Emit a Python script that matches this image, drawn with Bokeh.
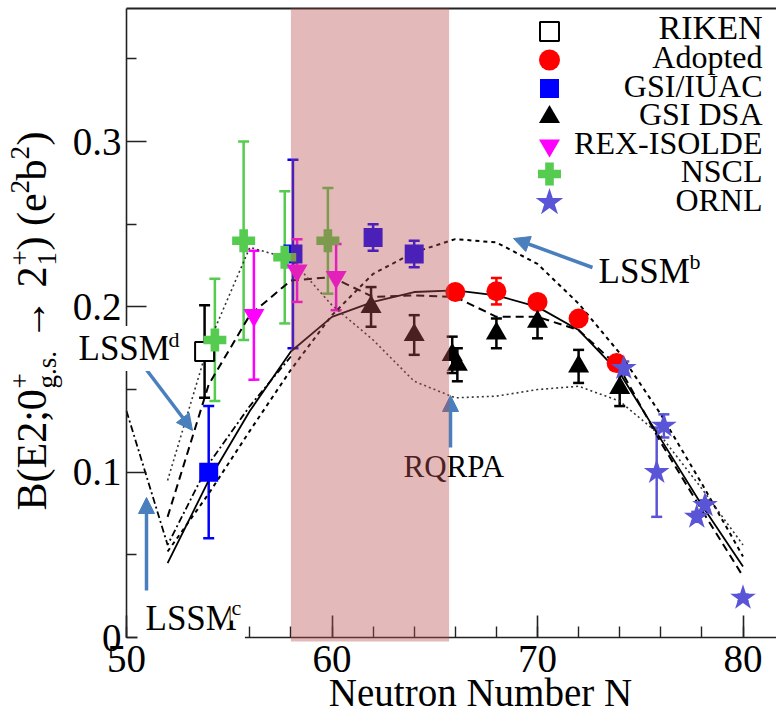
import math
from bokeh.plotting import figure
from bokeh.models import (Range1d, FixedTicker, CustomJSTickFormatter, ColumnDataSource, Whisker,
                          TeeHead, BoxAnnotation, Label, Arrow, NormalHead, LinearAxis)
from bokeh.core.properties import value
from bokeh.embed import file_html
from bokeh.resources import INLINE

# ---------------- data ----------------
THEORY_N = [52, 54, 56, 58, 60, 62, 64, 66, 68, 70, 72, 74, 76, 78, 80]
SOLID_B = [0.045, 0.095, 0.137, 0.173, 0.194, 0.203, 0.209, 0.210, 0.207, 0.200, 0.186, 0.160, 0.120, 0.080, 0.043]
LSSM_D_B = [0.073, 0.153, 0.195, 0.216, 0.218, 0.206, 0.207, 0.206, 0.194, 0.194, 0.186, 0.163, 0.118, 0.077, 0.037]
LSSM_B_B = [0.052, 0.087, 0.125, 0.162, 0.195, 0.220, 0.233, 0.241, 0.239, 0.226, 0.202, 0.172, 0.135, 0.093, 0.049]
RQRPA_B = [0.095, 0.178, 0.236, 0.229, 0.201, 0.180, 0.155, 0.145, 0.146, 0.150, 0.152, 0.143, 0.122, 0.090, 0.056]
LSSM_C_N = [50, 52, 54, 56, 58]
LSSM_C_B = [0.137, 0.056, 0.105, 0.140, 0.170]

RIKEN_N = [53.8]
RIKEN_B = [0.173]
RIKEN_E = [0.028]

ADOPTED_N = [66, 68, 70, 72, 73.85]
ADOPTED_B = [0.209, 0.2095, 0.203, 0.193, 0.166]
ADOPTED_E = [0.004, 0.008, 0.003, 0.003, 0.003]

GSI_IUAC_N = [54, 58.1, 62, 64]
GSI_IUAC_B = [0.100, 0.232, 0.242, 0.232]
GSI_IUAC_E = [0.040, 0.057, 0.008, 0.008]

GSI_DSA_N = [61.9, 64, 65.85, 66.1, 68, 70, 72, 74]
GSI_DSA_B = [0.200, 0.183, 0.171, 0.165, 0.184, 0.191, 0.164, 0.151]
GSI_DSA_E = [0.012, 0.012, 0.011, 0.010, 0.009, 0.010, 0.010, 0.011]

REX_N = [56.2, 58.3, 60.2]
REX_B = [0.195, 0.222, 0.218]
REX_E = [0.039, 0.019, 0.020]

NSCL_N = [54.3, 55.7, 57.7, 59.8]
NSCL_B = [0.180, 0.240, 0.230, 0.240]
NSCL_E = [0.037, 0.060, 0.040, 0.032]

ORNL_N = [74.2, 75.8, 76.15, 77.75, 78.15, 80.0]
ORNL_B = [0.163, 0.100, 0.128, 0.073, 0.080, 0.024]
ORNL_E = [0.004, 0.027, 0.007, 0.003, 0.003, 0.002]

LEGEND_LABELS = ["RIKEN", "Adopted", "GSI/IUAC", "GSI DSA", "REX-ISOLDE", "NSCL", "ORNL"]
X_TICKS = [50, 60, 70, 80]
X_MINOR = list(range(50, 82, 2))
Y_TICKS = [0, 0.1, 0.2, 0.3]
Y_MINOR = [0.05, 0.15, 0.25, 0.35]
SHADE_N = [58, 65.7]

# ---------------- layout ----------------
W, H = 776, 717
FL, FT, FB = 126, 8, 637          # pixel positions of the N=50 axis, top border, B=0 axis
PX_N = 20.55
PX_B = 1653.0
X0 = 50
SERIF = "Liberation Serif"
MID = 0.34                        # distance baseline -> middle of em box, in em


def nx(px):
    return X0 + (px - FL) / PX_N


def by(py):
    return (FB - py) / PX_B


XEND = nx(W)
YTOP = by(FT)

RED, BLUE, MAG, GREEN, STAR = "#ff0000", "#0000ff", "#ff00ff", "#55cc4f", "#5a55d6"
ARROW_C = "#4a7fbd"
AX_C = "#222222"

# frame covers the whole canvas; axes are pinned with fixed_location
p = figure(width=W, height=H, x_range=Range1d(nx(0), XEND), y_range=Range1d(by(H), by(0)),
           output_backend="svg", toolbar_location=None, min_border=0)
p.grid.visible = False
p.outline_line_color = None
p.background_fill_color = "white"
p.border_fill_color = "white"

xa, ya = p.xaxis[0], p.yaxis[0]
xa.fixed_location = 0
ya.fixed_location = X0
xa.bounds = (X0, XEND)
ya.bounds = (0, YTOP)
for ax in (xa, ya):
    ax.axis_line_color = AX_C
    ax.axis_line_width = 1.6
    ax.major_tick_line_color = AX_C
    ax.minor_tick_line_color = AX_C
    ax.major_tick_line_width = 1.6
    ax.minor_tick_line_width = 1.4
    ax.major_tick_out = 0
    ax.minor_tick_out = 0
    ax.major_label_text_font = SERIF
    ax.major_label_text_font_size = "39px"
    ax.major_label_text_color = "black"

xa.ticker = FixedTicker(ticks=X_TICKS, minor_ticks=X_MINOR)
ya.ticker = FixedTicker(ticks=Y_TICKS, minor_ticks=Y_MINOR)
xa.major_tick_in = 22
xa.minor_tick_in = 11
ya.major_tick_in = 20
ya.minor_tick_in = 10
xa.major_label_standoff = 8
ya.major_label_standoff = 5
ya.formatter = CustomJSTickFormatter(code="return tick == 0 ? '0' : tick.toFixed(1);")

top = LinearAxis(fixed_location=YTOP, bounds=(X0, XEND), ticker=FixedTicker(ticks=[]),
                 axis_line_color=AX_C, axis_line_width=2,
                 major_tick_line_color=None, minor_tick_line_color=None)
p.add_layout(top, "above")

# ---------------- theory curves ----------------
p.line(THEORY_N, SOLID_B, line_color="black", line_width=1.8)
p.line(THEORY_N, LSSM_D_B, line_color="black", line_width=2, line_dash="8 5")
p.line(THEORY_N, LSSM_B_B, line_color="black", line_width=2, line_dash="4 4")
p.line(THEORY_N, RQRPA_B, line_color="#333333", line_width=1.6, line_dash="2 3")
p.line(LSSM_C_N, LSSM_C_B, line_color="black", line_width=1.8, line_dash="7 3 2 3")


# ---------------- experimental points ----------------
def series(N, B, E, marker, size, fill, line, lw=0):
    src = ColumnDataSource(dict(x=N, y=B,
                                upper=[b + e for b, e in zip(B, E)],
                                lower=[b - e for b, e in zip(B, E)]))
    p.add_layout(Whisker(source=src, base="x", upper="upper", lower="lower",
                         line_color=line, line_width=2.5,
                         upper_head=TeeHead(size=11, line_color=line, line_width=2.5),
                         lower_head=TeeHead(size=11, line_color=line, line_width=2.5)))
    p.scatter("x", "y", source=src, marker=marker, size=size, fill_color=fill,
              line_color=line, line_width=lw)


series(GSI_IUAC_N, GSI_IUAC_B, GSI_IUAC_E, "square", 19, BLUE, BLUE)
series(RIKEN_N, RIKEN_B, RIKEN_E, "square", 19, "white", "black", 2)
series(NSCL_N, NSCL_B, NSCL_E, "plus", 23, GREEN, GREEN)
series(REX_N, REX_B, REX_E, "inverted_triangle", 21, MAG, MAG)
series(ADOPTED_N, ADOPTED_B, ADOPTED_E, "circle", 20, RED, RED)
series(GSI_DSA_N, GSI_DSA_B, GSI_DSA_E, "triangle", 21, "black", "black")
series(ORNL_N, ORNL_B, ORNL_E, "star", 27, STAR, STAR)

# ---------------- legend (right-aligned labels) ----------------
LEG_MARKER_X = 549
LEG_TEXT_X = 762
LEG_TOP = 31
LEG_STEP = 28.5
LEG_FS = [34, 32, 32, 32, 32, 32, 32]
nleg = len(LEGEND_LABELS)
leg = ColumnDataSource(dict(
    x=[nx(LEG_MARKER_X)] * nleg,
    tx=[nx(LEG_TEXT_X)] * nleg,
    y=[by(LEG_TOP + i * LEG_STEP) for i in range(nleg)],
    ty=[by(LEG_TOP + i * LEG_STEP + 8 - MID * LEG_FS[i]) for i in range(nleg)],
    text=LEGEND_LABELS,
    marker=["square", "circle", "square", "triangle", "inverted_triangle", "plus", "star"],
    fill=["white", RED, BLUE, "black", MAG, GREEN, STAR],
    line=["black", RED, BLUE, "black", MAG, GREEN, STAR],
    lw=[2, 0, 0, 0, 0, 0, 0],
    size=[19, 21, 19, 21, 21, 23, 29],
    fs=[f"{s}px" for s in LEG_FS],
))
p.scatter("x", "y", source=leg, marker="marker", size="size", fill_color="fill",
          line_color="line", line_width="lw")
p.text("tx", "ty", text="text", source=leg, text_align="right", text_baseline="middle",
       text_font=value(SERIF), text_font_size="fs", text_color="black")

# ---------------- shaded band (overlay) ----------------
p.add_layout(BoxAnnotation(left=SHADE_N[0], right=SHADE_N[1], bottom=by(641), top=YTOP,
                           fill_color=(185, 80, 80), fill_alpha=0.4, line_color=None,
                           level="overlay"))


# ---------------- annotations ----------------
def lab(text, px, py, size, bg=None, pad=0, rotated=False, align="left"):
    """px, py: pixel position of the text's baseline start (or centre)."""
    kw = {}
    if bg:
        kw["background_fill_color"] = bg
        kw["padding"] = pad
    if rotated:
        ax_, ay_, ang = px - MID * size, py, math.pi / 2
    else:
        ax_, ay_, ang = px, py - MID * size, 0.0
    p.add_layout(Label(x=nx(ax_), y=by(ay_), text=text, text_font=SERIF,
                       text_font_size=f"{size}px", text_color="black", angle=ang,
                       text_align=align, text_baseline="middle", **kw))


def arrow(x0, y0, x1, y1):
    p.add_layout(Arrow(end=NormalHead(size=16, fill_color=ARROW_C, line_color=ARROW_C),
                       x_start=nx(x0), y_start=by(y0), x_end=nx(x1), y_end=by(y1),
                       line_color=ARROW_C, line_width=3.5))


arrow(145, 368, 192, 430)      # LSSM d
arrow(146, 590, 146, 497)      # LSSM c
arrow(450, 447, 450, 395)      # RQRPA
arrow(592, 267, 513, 238)      # LSSM b

lab("LSSM", 75, 360, 35, bg="white", pad=3)
lab("d", 167, 346, 22, bg="white", pad=1)
lab("LSSM", 137, 630, 35, bg="white", pad=8)
lab("c", 230, 614, 22, bg="white", pad=1)
lab("LSSM", 598, 283, 35)
lab("b", 689, 268, 22)
lab("RQRPA", 403, 477, 31)

# axis titles
lab("Neutron Number N", 480, 705, 39, align="center")
YT = [
    ("B(E2;0", 510, 46, 42),
    ("+", 388, 29, 27),
    ("g.s.", 388, 56, 27),
    ("\u2192", 340, 46, 42),
    ("2", 287, 46, 42),
    ("+", 265, 29, 27),
    ("1", 265, 56, 27),
    (") (e", 250, 46, 42),
    ("2", 193, 29, 27),
    ("b", 180, 46, 42),
    ("2", 159, 29, 27),
    (")", 145, 46, 42),
]
for t, py, px, s in YT:
    lab(t, px, py, s, rotated=True)

open("out.html", "w").write(file_html(p, INLINE))
